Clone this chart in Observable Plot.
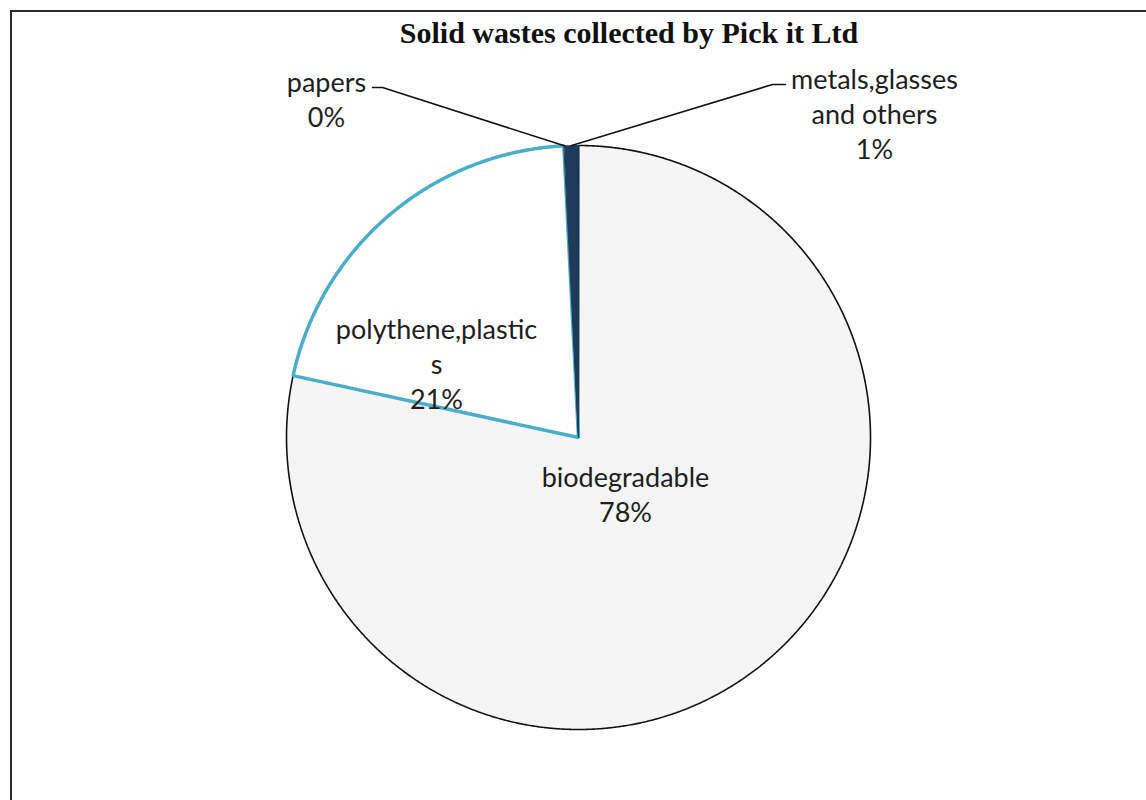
<!DOCTYPE html>
<html>
<head>
<meta charset="utf-8">
<script src="https://cdn.jsdelivr.net/npm/d3@7"></script>
<script src="https://cdn.jsdelivr.net/npm/@observablehq/plot@0.6"></script>
<style>
  body { margin: 0; background: #fff; }
  #wrap { position: relative; width: 1146px; height: 800px; overflow: hidden; background: #fff; }
  #frame { position: absolute; left: 10px; top: 10px; width: 1300px; height: 1000px; border: 2px solid #2b2b2b; box-sizing: border-box; pointer-events: none; }
  #title { font: bold 30px "Liberation Serif", "Times New Roman", serif; height: 58px; line-height: 50px; padding-top: 8px; width: 1146px; box-sizing: border-box; padding-left: 112px; text-align: center; color: #111; white-space: nowrap; }
  #chart svg { display: block; overflow: visible; }
</style>
</head>
<body>
<div id="wrap">
  <div id="title">Solid wastes collected by Pick it Ltd</div>
  <div id="chart"></div>
  <div id="frame"></div>
</div>
<script>
// ---- data ----
const categories = ["biodegradable", "polythene,plastics", "papers", "metals,glasses and others"];
const shares = [78.4, 20.8, 0.05, 0.75];           // percent of total
const labelTexts = ["biodegradable", "polythene,plastic\ns", "papers", "metals,glasses\nand others"];

// ---- layout / style (not data) ----
const W = 1146, H = 742, CX = 578, CY = 379, R = 292;
const sliceStyle = {
  "biodegradable": {fill: "#f5f5f5", stroke: "#111", strokeWidth: 1.6},
  "polythene,plastics": {fill: "#ffffff", stroke: "#4aaec8", strokeWidth: 3.5},
  "papers": {fill: "#ffffff", stroke: "#1f3b5c", strokeWidth: 1},
  "metals,glasses and others": {fill: "#1f3b5c", stroke: "#1f3b5c", strokeWidth: 1}
};
// label block centres and leader anchors, pixel offsets from the pie centre
const labelLayout = {
  "biodegradable": {cx: 47, cy: -56},
  "polythene,plastics": {cx: -142, cy: 75},
  "papers": {cx: -252, cy: 339.5, leader: [[-206, 350], [-196, 350]]},
  "metals,glasses and others": {cx: 296, cy: 324.5, leader: [[207, 353], [194, 353]]}
};

const rows = categories.map((c, i) => ({name: c, share: shares[i], label: labelTexts[i]}));
const arcs = d3.pie().sort(null).value(d => d.share)(rows);

// slice outlines
const slicePts = {};
for (const a of arcs) {
  const name = a.data.name;
  const pts = [{x: 0, y: 0}];
  const n = Math.max(2, Math.ceil((a.endAngle - a.startAngle) / (Math.PI / 720)));
  for (let i = 0; i <= n; i++) {
    const t = a.startAngle + (a.endAngle - a.startAngle) * i / n;
    pts.push({x: Math.sin(t), y: Math.cos(t)});
  }
  slicePts[name] = pts;
}

// labels
const labels = arcs.map(a => {
  const L = labelLayout[a.data.name];
  return {
    x: L.cx / R, y: L.cy / R,
    text: a.data.label + "\n" + Math.round(a.data.share) + "%"
  };
});

// leader lines
const leaders = [];
for (const a of arcs) {
  const L = labelLayout[a.data.name];
  if (!L.leader) continue;
  const mid = (a.startAngle + a.endAngle) / 2;
  for (const [px, py] of L.leader) leaders.push({name: a.data.name, x: px / R, y: py / R});
  leaders.push({name: a.data.name, x: Math.sin(mid), y: Math.cos(mid)});
}

const sliceMarks = categories.map(c => Plot.line(slicePts[c], {
  x: "x", y: "y", curve: "linear-closed",
  fill: sliceStyle[c].fill, stroke: sliceStyle[c].stroke,
  strokeWidth: sliceStyle[c].strokeWidth, strokeLinejoin: "miter"
}));

const chart = Plot.plot({
  width: W, height: H,
  marginTop: 0, marginRight: 0, marginBottom: 0, marginLeft: 0,
  x: {domain: [-CX / R, (W - CX) / R], axis: null},
  y: {domain: [-(H - CY) / R, CY / R], axis: null},
  style: {background: "transparent", overflow: "visible"},
  marks: [
    ...sliceMarks,
    Plot.line(leaders, {x: "x", y: "y", z: "name", stroke: "#111", strokeWidth: 1.6}),
    Plot.text(labels, {
      x: "x", y: "y", text: "text", fontSize: 27, lineHeight: 1.3,
      fontFamily: "Lato, 'Open Sans', sans-serif", fill: "#1e1e1e", textAnchor: "middle"
    })
  ]
});
document.getElementById("chart").appendChild(chart);
</script>
</body>
</html>
